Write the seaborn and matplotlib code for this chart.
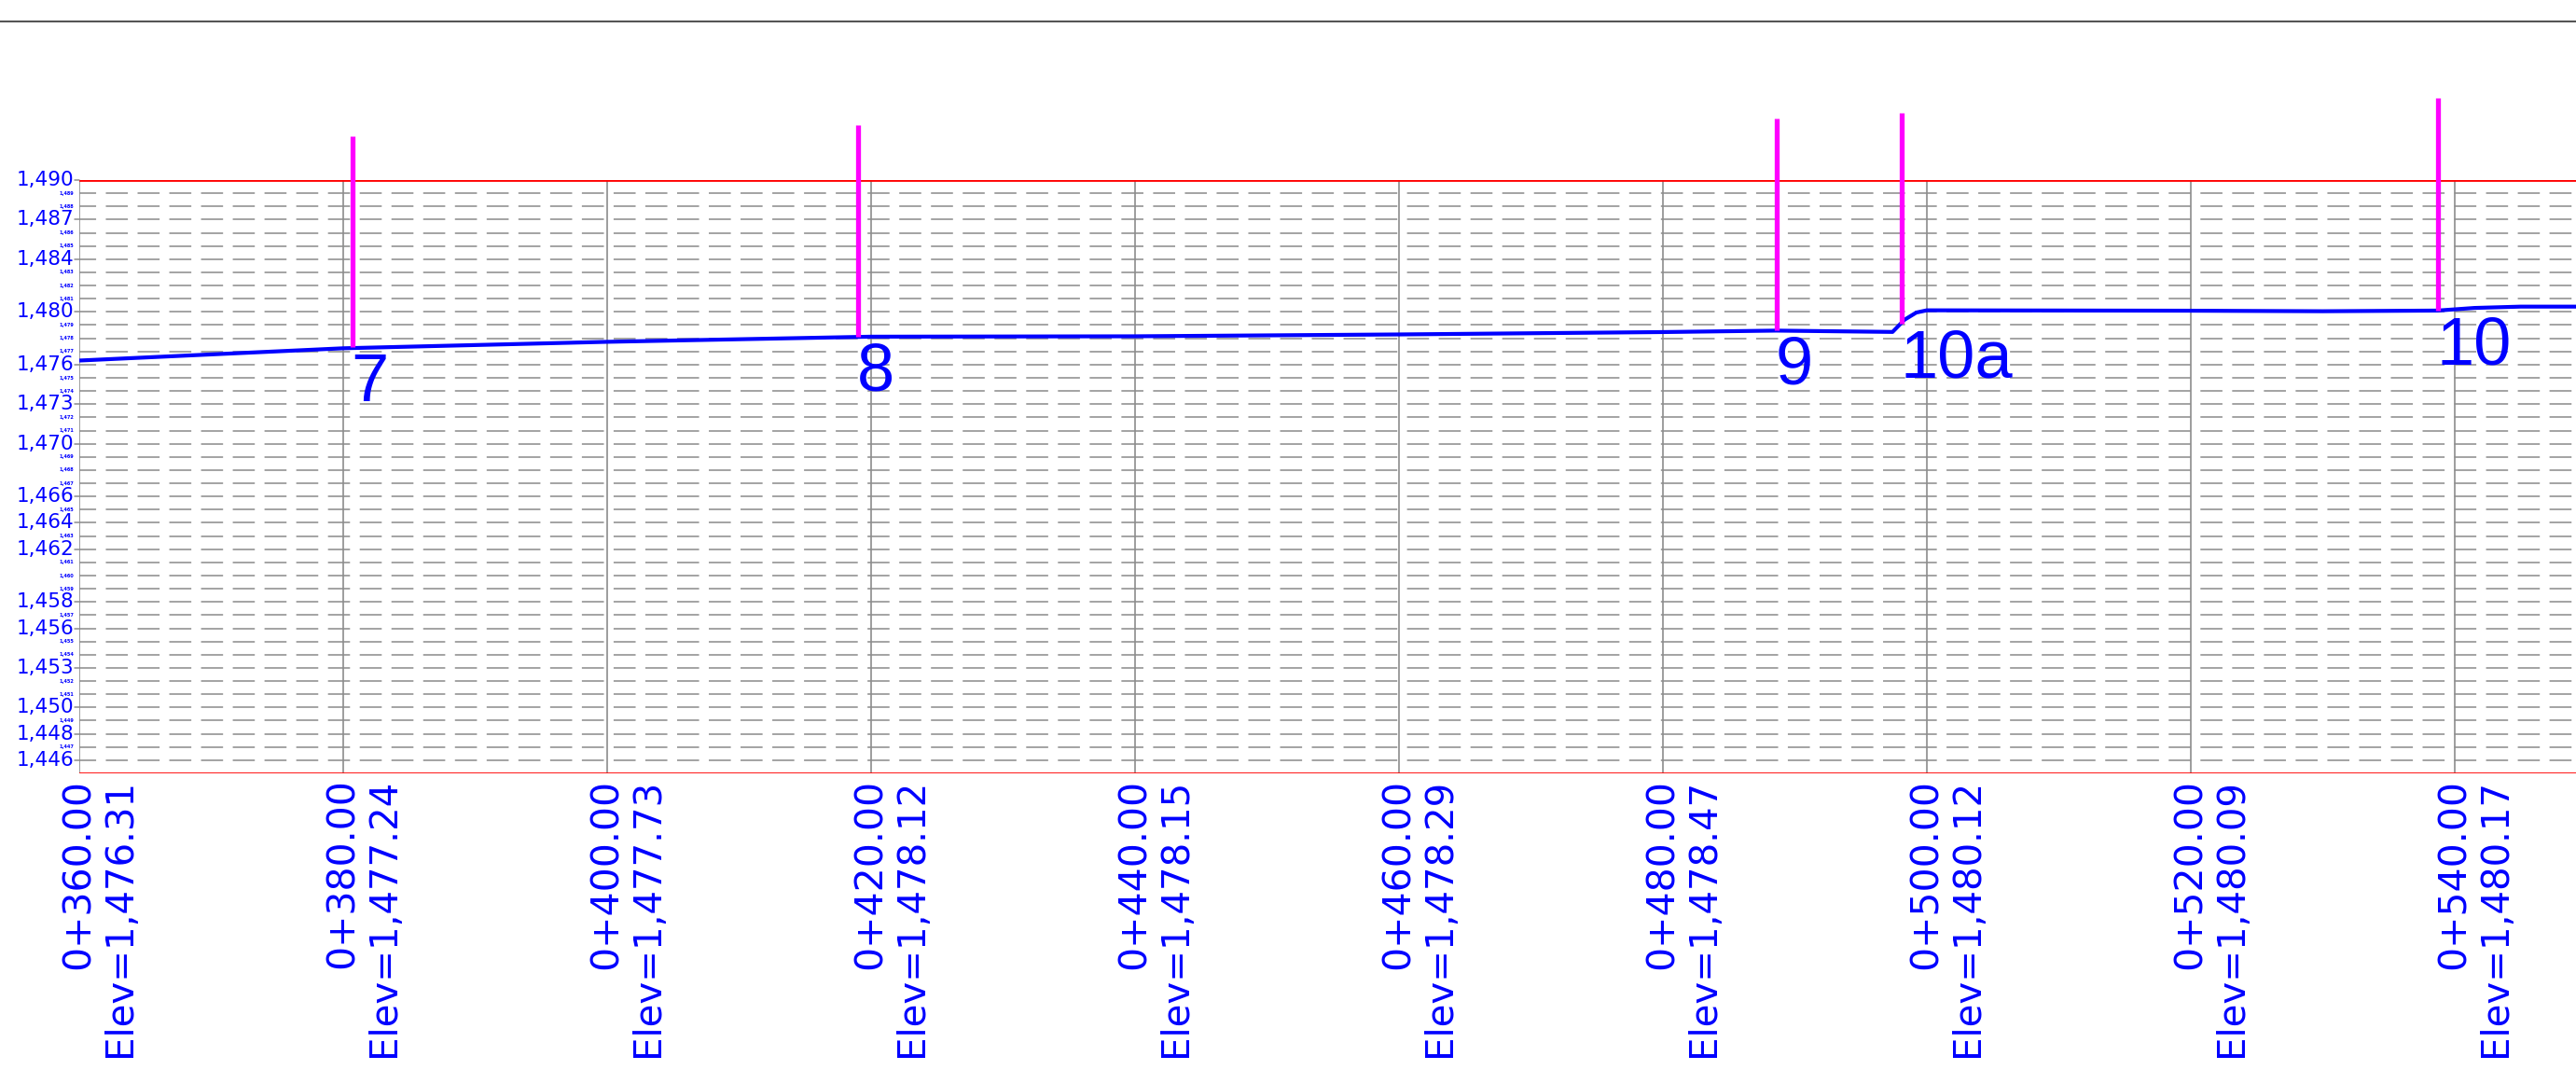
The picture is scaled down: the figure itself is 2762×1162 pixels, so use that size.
"""Road profile sheet: ground line, station / elevation labels and pole markers."""
import numpy as np
import pandas as pd

import matplotlib
matplotlib.use("Agg")
import matplotlib.pyplot as plt
from matplotlib.lines import Line2D
import seaborn as sns

# --- data ------------------------------------------------------------------
stations = [360, 380, 400, 420, 440, 460, 480, 500, 520, 540]
station_elev = [1476.31, 1477.24, 1477.73, 1478.12, 1478.15,
                1478.29, 1478.47, 1480.12, 1480.09, 1480.17]

# ground line vertices (labelled stations plus breaks)
profile_sta = [360, 380, 400, 420, 440, 460, 480, 488.6, 497.4, 498.3,
               499.2, 500, 520, 530, 538.7, 541.5, 545, 549.5]
profile_elev = [1476.31, 1477.24, 1477.73, 1478.12, 1478.15, 1478.29,
                1478.47, 1478.58, 1478.48, 1479.40, 1479.95, 1480.12,
                1480.09, 1480.05, 1480.10, 1480.30, 1480.40, 1480.40]

marker_names = ["7", "8", "9", "10a", "10"]
marker_sta = [380.7, 419.0, 488.6, 498.1, 538.7]
marker_base = [1477.3, 1478.1, 1478.6, 1479.1, 1480.1]
marker_top = [1493.3, 1494.2, 1494.7, 1495.1, 1496.2]

big_elev_labels = [1490, 1487, 1484, 1480, 1476, 1473, 1470, 1466,
                   1464, 1462, 1458, 1456, 1453, 1450, 1448, 1446]
grid_elev = list(range(1446, 1490))
elev_min, elev_max = 1445, 1490

BLUE = "#0000ff"
MAGENTA = "#ff00ff"

sns.set_style("white")
plt.rcParams["lines.scale_dashes"] = False

W, H = 2762, 1162
fig = plt.figure(figsize=(W / 100, H / 100), dpi=100)
ax_left, ax_top, ax_bot = 85, 193, 829
ax = fig.add_axes([ax_left / W, (H - ax_bot) / H, 1 - ax_left / W,
                   (ax_bot - ax_top) / H])
ax.set_xlim(360, 360 + (W - ax_left) / 14.15)
ax.set_ylim(elev_min, elev_max)
for sp in ax.spines.values():
    sp.set_visible(False)

# grid: dashed elevation lines, solid station lines, red frame lines
for e in grid_elev:
    ax.axhline(e, color="#949494", lw=1.2, ls=(4, (17, 7.5)), zorder=1)
for s in stations:
    ax.plot([s, s], [elev_min, elev_max], color="#8c8c8c", lw=1.2, zorder=1)
ax.axhline(elev_max, color="red", lw=2, zorder=2)
ax.axhline(elev_min, color="red", lw=2, zorder=2)

# ground profile
prof = pd.DataFrame({"station": profile_sta, "elev": profile_elev})
sns.lineplot(data=prof, x="station", y="elev", color=BLUE, lw=3,
             estimator=None, sort=False, ax=ax, zorder=4)

# pole markers
label_font = ["Liberation Sans Narrow", "Liberation Sans"]
for name, s, b, t in zip(marker_names, marker_sta, marker_base, marker_top):
    ax.plot([s, s], [b, t], color=MAGENTA, lw=3.8, clip_on=False,
            solid_capstyle="butt", zorder=5)
    ax.annotate(name, xy=(s, b), xytext=(-1, -4), textcoords="offset points",
                ha="left", va="top", fontsize=52, color=BLUE,
                family=label_font, zorder=6)

# elevation labels on the left
for e in [elev_max] + grid_elev:
    big = e in big_elev_labels
    ax.annotate(f"{e:,}", xy=(360, e), xytext=(-4, 0),
                textcoords="offset points", ha="right", va="center",
                fontsize=15.5 if big else 3.6,
                fontweight="normal" if big else "bold",
                color=BLUE, annotation_clip=False)
    if big:
        ax.plot([360 - 0.35, 360], [e, e], color="#8c8c8c", lw=1.1,
                clip_on=False)

# station / elevation labels under the sheet
for s, e in zip(stations, station_elev):
    ax.annotate(f"{s // 1000}+{s % 1000:06.2f}", xy=(s, elev_min),
                xytext=(0, -4), textcoords="offset points", rotation=90,
                ha="center", va="top", fontsize=29.5, color=BLUE,
                annotation_clip=False)
    ax.annotate(f"Elev={e:,.2f}", xy=(s, elev_min),
                xytext=(32, -4), textcoords="offset points", rotation=90,
                ha="center", va="top", fontsize=29, color=BLUE,
                annotation_clip=False)

ax.set_xticks([])
ax.set_yticks([])
ax.set_xlabel("")
ax.set_ylabel("")

# sheet border line at the top
fig.add_artist(Line2D([0, 1], [1 - 23 / H] * 2, transform=fig.transFigure,
                      color="#555555", lw=1.5))

fig.savefig("out.png", dpi=100)
